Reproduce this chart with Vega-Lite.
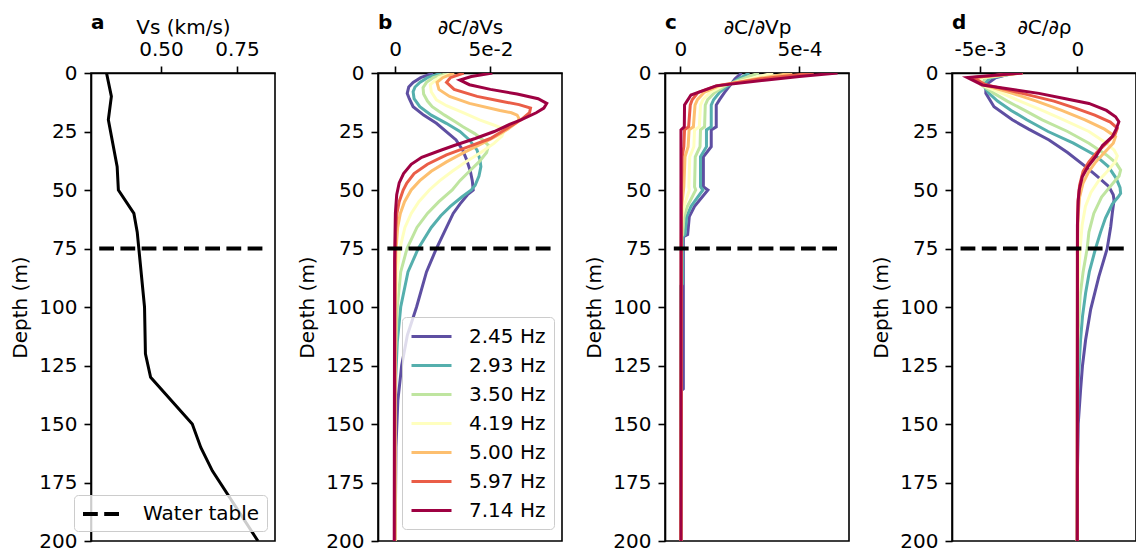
{
  "$schema": "https://vega.github.io/schema/vega-lite/v6.json",
  "background": "white",
  "padding": {"left": 10, "top": 12, "right": 0, "bottom": 0},
  "datasets": {
    "vs": [
      {"d": 0, "vs": 0.321}, {"d": 10, "vs": 0.337}, {"d": 20, "vs": 0.327}, {"d": 40, "vs": 0.356},
      {"d": 50, "vs": 0.36}, {"d": 60, "vs": 0.411}, {"d": 68, "vs": 0.422}, {"d": 100, "vs": 0.446},
      {"d": 120, "vs": 0.449}, {"d": 130, "vs": 0.466}, {"d": 150, "vs": 0.603}, {"d": 160, "vs": 0.631},
      {"d": 170, "vs": 0.669}, {"d": 200, "vs": 0.819}
    ],
    "vsens": [
      {"f": "2.45 Hz", "d": 0, "v": 0.02}, {"f": "2.45 Hz", "d": 2, "v": 0.0135}, {"f": "2.45 Hz", "d": 4, "v": 0.0095},
      {"f": "2.45 Hz", "d": 6, "v": 0.0072}, {"f": "2.45 Hz", "d": 8.7, "v": 0.0064}, {"f": "2.45 Hz", "d": 11, "v": 0.0075},
      {"f": "2.45 Hz", "d": 14.4, "v": 0.0095}, {"f": "2.45 Hz", "d": 18, "v": 0.015}, {"f": "2.45 Hz", "d": 21.5, "v": 0.0217},
      {"f": "2.45 Hz", "d": 28.6, "v": 0.032}, {"f": "2.45 Hz", "d": 33, "v": 0.0355}, {"f": "2.45 Hz", "d": 37, "v": 0.0375},
      {"f": "2.45 Hz", "d": 42, "v": 0.0395}, {"f": "2.45 Hz", "d": 46, "v": 0.0405}, {"f": "2.45 Hz", "d": 50, "v": 0.041},
      {"f": "2.45 Hz", "d": 52, "v": 0.038}, {"f": "2.45 Hz", "d": 56, "v": 0.034}, {"f": "2.45 Hz", "d": 60, "v": 0.0305},
      {"f": "2.45 Hz", "d": 66, "v": 0.027}, {"f": "2.45 Hz", "d": 75, "v": 0.0217}, {"f": "2.45 Hz", "d": 85, "v": 0.0165},
      {"f": "2.45 Hz", "d": 100, "v": 0.0113}, {"f": "2.45 Hz", "d": 112, "v": 0.0065}, {"f": "2.45 Hz", "d": 125, "v": 0.0035},
      {"f": "2.45 Hz", "d": 140, "v": 0.0015}, {"f": "2.45 Hz", "d": 160, "v": 0.0005}, {"f": "2.45 Hz", "d": 200, "v": 0.0001},

      {"f": "2.93 Hz", "d": 0, "v": 0.0243}, {"f": "2.93 Hz", "d": 2, "v": 0.017}, {"f": "2.93 Hz", "d": 4, "v": 0.013},
      {"f": "2.93 Hz", "d": 6, "v": 0.0105}, {"f": "2.93 Hz", "d": 8, "v": 0.0095}, {"f": "2.93 Hz", "d": 11, "v": 0.01},
      {"f": "2.93 Hz", "d": 14.4, "v": 0.013}, {"f": "2.93 Hz", "d": 18, "v": 0.019}, {"f": "2.93 Hz", "d": 21.5, "v": 0.0269},
      {"f": "2.93 Hz", "d": 25, "v": 0.034}, {"f": "2.93 Hz", "d": 28.6, "v": 0.039}, {"f": "2.93 Hz", "d": 33, "v": 0.043},
      {"f": "2.93 Hz", "d": 37, "v": 0.0445}, {"f": "2.93 Hz", "d": 40, "v": 0.045}, {"f": "2.93 Hz", "d": 44, "v": 0.044},
      {"f": "2.93 Hz", "d": 48, "v": 0.042}, {"f": "2.93 Hz", "d": 50, "v": 0.04}, {"f": "2.93 Hz", "d": 53, "v": 0.035},
      {"f": "2.93 Hz", "d": 57, "v": 0.029}, {"f": "2.93 Hz", "d": 61, "v": 0.024}, {"f": "2.93 Hz", "d": 66, "v": 0.019},
      {"f": "2.93 Hz", "d": 75, "v": 0.0122}, {"f": "2.93 Hz", "d": 85, "v": 0.0068}, {"f": "2.93 Hz", "d": 100, "v": 0.003},
      {"f": "2.93 Hz", "d": 115, "v": 0.0012}, {"f": "2.93 Hz", "d": 130, "v": 0.0004}, {"f": "2.93 Hz", "d": 160, "v": 0.0},
      {"f": "2.93 Hz", "d": 200, "v": 0.0},

      {"f": "3.50 Hz", "d": 0, "v": 0.0278}, {"f": "3.50 Hz", "d": 2, "v": 0.02}, {"f": "3.50 Hz", "d": 4, "v": 0.0165},
      {"f": "3.50 Hz", "d": 6.3, "v": 0.0147}, {"f": "3.50 Hz", "d": 9, "v": 0.015}, {"f": "3.50 Hz", "d": 12, "v": 0.017},
      {"f": "3.50 Hz", "d": 14.4, "v": 0.0195}, {"f": "3.50 Hz", "d": 18, "v": 0.026}, {"f": "3.50 Hz", "d": 21, "v": 0.032},
      {"f": "3.50 Hz", "d": 23, "v": 0.0356}, {"f": "3.50 Hz", "d": 26, "v": 0.042}, {"f": "3.50 Hz", "d": 28.6, "v": 0.046},
      {"f": "3.50 Hz", "d": 31, "v": 0.049}, {"f": "3.50 Hz", "d": 34, "v": 0.048}, {"f": "3.50 Hz", "d": 38, "v": 0.044},
      {"f": "3.50 Hz", "d": 42, "v": 0.039}, {"f": "3.50 Hz", "d": 46, "v": 0.034}, {"f": "3.50 Hz", "d": 50, "v": 0.03},
      {"f": "3.50 Hz", "d": 55, "v": 0.023}, {"f": "3.50 Hz", "d": 60, "v": 0.017}, {"f": "3.50 Hz", "d": 66, "v": 0.0115},
      {"f": "3.50 Hz", "d": 75, "v": 0.0063}, {"f": "3.50 Hz", "d": 85, "v": 0.003}, {"f": "3.50 Hz", "d": 100, "v": 0.0012},
      {"f": "3.50 Hz", "d": 120, "v": 0.0003}, {"f": "3.50 Hz", "d": 150, "v": 0.0}, {"f": "3.50 Hz", "d": 200, "v": 0.0},

      {"f": "4.19 Hz", "d": 0, "v": 0.0304}, {"f": "4.19 Hz", "d": 2, "v": 0.023}, {"f": "4.19 Hz", "d": 5, "v": 0.0185},
      {"f": "4.19 Hz", "d": 8, "v": 0.019}, {"f": "4.19 Hz", "d": 11.5, "v": 0.0217}, {"f": "4.19 Hz", "d": 14, "v": 0.027},
      {"f": "4.19 Hz", "d": 17, "v": 0.036}, {"f": "4.19 Hz", "d": 20, "v": 0.0443}, {"f": "4.19 Hz", "d": 22, "v": 0.051},
      {"f": "4.19 Hz", "d": 24, "v": 0.0575}, {"f": "4.19 Hz", "d": 27, "v": 0.056}, {"f": "4.19 Hz", "d": 30, "v": 0.052},
      {"f": "4.19 Hz", "d": 34, "v": 0.045}, {"f": "4.19 Hz", "d": 38, "v": 0.037}, {"f": "4.19 Hz", "d": 42, "v": 0.03},
      {"f": "4.19 Hz", "d": 46, "v": 0.0235}, {"f": "4.19 Hz", "d": 50, "v": 0.018}, {"f": "4.19 Hz", "d": 55, "v": 0.0125},
      {"f": "4.19 Hz", "d": 60, "v": 0.0085}, {"f": "4.19 Hz", "d": 66, "v": 0.0052}, {"f": "4.19 Hz", "d": 75, "v": 0.0026},
      {"f": "4.19 Hz", "d": 85, "v": 0.0011}, {"f": "4.19 Hz", "d": 100, "v": 0.0003}, {"f": "4.19 Hz", "d": 120, "v": 0.0},
      {"f": "4.19 Hz", "d": 200, "v": 0.0},

      {"f": "5.00 Hz", "d": 0, "v": 0.031}, {"f": "5.00 Hz", "d": 2, "v": 0.025}, {"f": "5.00 Hz", "d": 4, "v": 0.022},
      {"f": "5.00 Hz", "d": 7, "v": 0.023}, {"f": "5.00 Hz", "d": 10, "v": 0.0286}, {"f": "5.00 Hz", "d": 13, "v": 0.039},
      {"f": "5.00 Hz", "d": 16, "v": 0.055}, {"f": "5.00 Hz", "d": 17, "v": 0.061}, {"f": "5.00 Hz", "d": 18, "v": 0.064},
      {"f": "5.00 Hz", "d": 19.5, "v": 0.065}, {"f": "5.00 Hz", "d": 21, "v": 0.064}, {"f": "5.00 Hz", "d": 24, "v": 0.059},
      {"f": "5.00 Hz", "d": 27, "v": 0.053}, {"f": "5.00 Hz", "d": 30, "v": 0.046}, {"f": "5.00 Hz", "d": 34, "v": 0.036},
      {"f": "5.00 Hz", "d": 38, "v": 0.027}, {"f": "5.00 Hz", "d": 42, "v": 0.019}, {"f": "5.00 Hz", "d": 46, "v": 0.013},
      {"f": "5.00 Hz", "d": 50, "v": 0.0085}, {"f": "5.00 Hz", "d": 55, "v": 0.005}, {"f": "5.00 Hz", "d": 60, "v": 0.0028},
      {"f": "5.00 Hz", "d": 66, "v": 0.0014}, {"f": "5.00 Hz", "d": 75, "v": 0.0006}, {"f": "5.00 Hz", "d": 85, "v": 0.0002},
      {"f": "5.00 Hz", "d": 100, "v": 0.0}, {"f": "5.00 Hz", "d": 200, "v": 0.0},

      {"f": "5.97 Hz", "d": 0, "v": 0.036}, {"f": "5.97 Hz", "d": 2, "v": 0.029}, {"f": "5.97 Hz", "d": 4, "v": 0.027},
      {"f": "5.97 Hz", "d": 7, "v": 0.031}, {"f": "5.97 Hz", "d": 10, "v": 0.043}, {"f": "5.97 Hz", "d": 12, "v": 0.055},
      {"f": "5.97 Hz", "d": 13.5, "v": 0.065}, {"f": "5.97 Hz", "d": 15, "v": 0.071}, {"f": "5.97 Hz", "d": 17, "v": 0.0705},
      {"f": "5.97 Hz", "d": 20, "v": 0.066}, {"f": "5.97 Hz", "d": 23, "v": 0.06}, {"f": "5.97 Hz", "d": 25, "v": 0.056},
      {"f": "5.97 Hz", "d": 28, "v": 0.05}, {"f": "5.97 Hz", "d": 31, "v": 0.04}, {"f": "5.97 Hz", "d": 35, "v": 0.027},
      {"f": "5.97 Hz", "d": 39, "v": 0.017}, {"f": "5.97 Hz", "d": 43, "v": 0.01}, {"f": "5.97 Hz", "d": 47, "v": 0.0062},
      {"f": "5.97 Hz", "d": 50, "v": 0.0043}, {"f": "5.97 Hz", "d": 55, "v": 0.0022}, {"f": "5.97 Hz", "d": 60, "v": 0.001},
      {"f": "5.97 Hz", "d": 68, "v": 0.0003}, {"f": "5.97 Hz", "d": 80, "v": 0.0001}, {"f": "5.97 Hz", "d": 200, "v": -0.0002},

      {"f": "7.14 Hz", "d": 0, "v": 0.051}, {"f": "7.14 Hz", "d": 1.5, "v": 0.04}, {"f": "7.14 Hz", "d": 3, "v": 0.034},
      {"f": "7.14 Hz", "d": 5, "v": 0.039}, {"f": "7.14 Hz", "d": 7, "v": 0.05}, {"f": "7.14 Hz", "d": 9, "v": 0.064},
      {"f": "7.14 Hz", "d": 11, "v": 0.075}, {"f": "7.14 Hz", "d": 13, "v": 0.0795}, {"f": "7.14 Hz", "d": 15, "v": 0.078},
      {"f": "7.14 Hz", "d": 17, "v": 0.074}, {"f": "7.14 Hz", "d": 20, "v": 0.066}, {"f": "7.14 Hz", "d": 22, "v": 0.06},
      {"f": "7.14 Hz", "d": 25, "v": 0.052}, {"f": "7.14 Hz", "d": 28, "v": 0.042}, {"f": "7.14 Hz", "d": 31, "v": 0.031},
      {"f": "7.14 Hz", "d": 33, "v": 0.024}, {"f": "7.14 Hz", "d": 36, "v": 0.014}, {"f": "7.14 Hz", "d": 39, "v": 0.0085},
      {"f": "7.14 Hz", "d": 43, "v": 0.0045}, {"f": "7.14 Hz", "d": 47, "v": 0.0022}, {"f": "7.14 Hz", "d": 52, "v": 0.0009},
      {"f": "7.14 Hz", "d": 60, "v": 0.0002}, {"f": "7.14 Hz", "d": 80, "v": -0.0002}, {"f": "7.14 Hz", "d": 200, "v": -0.0004}
    ],
    "vp": [
      {"f": "2.45 Hz", "d": 0, "v": 0.000257}, {"f": "2.45 Hz", "d": 2.5, "v": 0.00023}, {"f": "2.45 Hz", "d": 5.4, "v": 0.000208},
      {"f": "2.45 Hz", "d": 8.3, "v": 0.000186}, {"f": "2.45 Hz", "d": 11.4, "v": 0.000165}, {"f": "2.45 Hz", "d": 13.7, "v": 0.000151},
      {"f": "2.45 Hz", "d": 23, "v": 0.000151}, {"f": "2.45 Hz", "d": 24.3, "v": 0.00013}, {"f": "2.45 Hz", "d": 31.5, "v": 0.00013},
      {"f": "2.45 Hz", "d": 35.8, "v": 0.000097}, {"f": "2.45 Hz", "d": 48.6, "v": 0.000097}, {"f": "2.45 Hz", "d": 50, "v": 0.000116},
      {"f": "2.45 Hz", "d": 57, "v": 0.00006}, {"f": "2.45 Hz", "d": 61.4, "v": 0.000038}, {"f": "2.45 Hz", "d": 69, "v": 0.000031},
      {"f": "2.45 Hz", "d": 70, "v": 0.000013}, {"f": "2.45 Hz", "d": 135, "v": 0.000013}, {"f": "2.45 Hz", "d": 136, "v": 0.000002},
      {"f": "2.45 Hz", "d": 200, "v": 0.000002},

      {"f": "2.93 Hz", "d": 0, "v": 0.00029}, {"f": "2.93 Hz", "d": 2.5, "v": 0.000245}, {"f": "2.93 Hz", "d": 5.4, "v": 0.0002},
      {"f": "2.93 Hz", "d": 8.3, "v": 0.000165}, {"f": "2.93 Hz", "d": 11.4, "v": 0.00014}, {"f": "2.93 Hz", "d": 13.7, "v": 0.00013},
      {"f": "2.93 Hz", "d": 23, "v": 0.00013}, {"f": "2.93 Hz", "d": 24.3, "v": 0.00011}, {"f": "2.93 Hz", "d": 31.5, "v": 0.00011},
      {"f": "2.93 Hz", "d": 35.8, "v": 0.000085}, {"f": "2.93 Hz", "d": 48.6, "v": 0.000085}, {"f": "2.93 Hz", "d": 50, "v": 0.000095},
      {"f": "2.93 Hz", "d": 57, "v": 0.000045}, {"f": "2.93 Hz", "d": 61.4, "v": 0.000027}, {"f": "2.93 Hz", "d": 69, "v": 0.00002},
      {"f": "2.93 Hz", "d": 70, "v": 0.00001}, {"f": "2.93 Hz", "d": 90, "v": 0.00001}, {"f": "2.93 Hz", "d": 91, "v": 0.000002},
      {"f": "2.93 Hz", "d": 200, "v": 0.000002},

      {"f": "3.50 Hz", "d": 0, "v": 0.00033}, {"f": "3.50 Hz", "d": 2.5, "v": 0.00026}, {"f": "3.50 Hz", "d": 5.4, "v": 0.00019},
      {"f": "3.50 Hz", "d": 8.3, "v": 0.000145}, {"f": "3.50 Hz", "d": 11.4, "v": 0.000115}, {"f": "3.50 Hz", "d": 13.7, "v": 0.000105},
      {"f": "3.50 Hz", "d": 23, "v": 0.000102}, {"f": "3.50 Hz", "d": 24.3, "v": 0.000085}, {"f": "3.50 Hz", "d": 31.5, "v": 0.000083},
      {"f": "3.50 Hz", "d": 35.8, "v": 0.000063}, {"f": "3.50 Hz", "d": 48.6, "v": 0.00006}, {"f": "3.50 Hz", "d": 50, "v": 0.000065},
      {"f": "3.50 Hz", "d": 57, "v": 0.00003}, {"f": "3.50 Hz", "d": 61.4, "v": 0.000016}, {"f": "3.50 Hz", "d": 69, "v": 0.00001},
      {"f": "3.50 Hz", "d": 70, "v": 0.000005}, {"f": "3.50 Hz", "d": 200, "v": 0.000003},

      {"f": "4.19 Hz", "d": 0, "v": 0.00039}, {"f": "4.19 Hz", "d": 2.5, "v": 0.00029}, {"f": "4.19 Hz", "d": 5.4, "v": 0.00018},
      {"f": "4.19 Hz", "d": 8.3, "v": 0.000125}, {"f": "4.19 Hz", "d": 11.4, "v": 0.000095}, {"f": "4.19 Hz", "d": 13.7, "v": 0.000085},
      {"f": "4.19 Hz", "d": 23, "v": 0.00008}, {"f": "4.19 Hz", "d": 24.3, "v": 0.00006}, {"f": "4.19 Hz", "d": 31.5, "v": 0.000057},
      {"f": "4.19 Hz", "d": 35.8, "v": 0.00004}, {"f": "4.19 Hz", "d": 48.6, "v": 0.000036}, {"f": "4.19 Hz", "d": 50, "v": 0.000038},
      {"f": "4.19 Hz", "d": 57, "v": 0.000016}, {"f": "4.19 Hz", "d": 61.4, "v": 0.000008}, {"f": "4.19 Hz", "d": 70, "v": 0.000004},
      {"f": "4.19 Hz", "d": 200, "v": 0.000003},

      {"f": "5.00 Hz", "d": 0, "v": 0.00047}, {"f": "5.00 Hz", "d": 2.5, "v": 0.00032}, {"f": "5.00 Hz", "d": 5.4, "v": 0.000165},
      {"f": "5.00 Hz", "d": 8.3, "v": 0.0001}, {"f": "5.00 Hz", "d": 11.4, "v": 0.000072}, {"f": "5.00 Hz", "d": 13.7, "v": 0.000062},
      {"f": "5.00 Hz", "d": 23, "v": 0.000055}, {"f": "5.00 Hz", "d": 24.3, "v": 0.000037}, {"f": "5.00 Hz", "d": 31.5, "v": 0.000033},
      {"f": "5.00 Hz", "d": 35.8, "v": 0.00002}, {"f": "5.00 Hz", "d": 48.6, "v": 0.000015}, {"f": "5.00 Hz", "d": 57, "v": 0.000006},
      {"f": "5.00 Hz", "d": 200, "v": 0.000003},

      {"f": "5.97 Hz", "d": 0, "v": 0.00056}, {"f": "5.97 Hz", "d": 2.5, "v": 0.00034}, {"f": "5.97 Hz", "d": 5.4, "v": 0.000155},
      {"f": "5.97 Hz", "d": 8.3, "v": 0.000075}, {"f": "5.97 Hz", "d": 11.4, "v": 0.00005}, {"f": "5.97 Hz", "d": 13.7, "v": 0.000042},
      {"f": "5.97 Hz", "d": 23, "v": 0.000035}, {"f": "5.97 Hz", "d": 24.3, "v": 0.000018}, {"f": "5.97 Hz", "d": 31.5, "v": 0.000015},
      {"f": "5.97 Hz", "d": 35.8, "v": 0.000008}, {"f": "5.97 Hz", "d": 48.6, "v": 0.000005}, {"f": "5.97 Hz", "d": 200, "v": 0.000003},

      {"f": "7.14 Hz", "d": 0, "v": 0.00066}, {"f": "7.14 Hz", "d": 1.5, "v": 0.0005}, {"f": "7.14 Hz", "d": 3, "v": 0.000363},
      {"f": "7.14 Hz", "d": 5.5, "v": 0.00015}, {"f": "7.14 Hz", "d": 9.4, "v": 0.000045}, {"f": "7.14 Hz", "d": 13.7, "v": 0.000018},
      {"f": "7.14 Hz", "d": 23, "v": 0.000017}, {"f": "7.14 Hz", "d": 24.3, "v": 0.000003}, {"f": "7.14 Hz", "d": 200, "v": 0.000003}
    ],
    "rho": [
      {"f": "2.45 Hz", "d": 0, "v": -0.0033}, {"f": "2.45 Hz", "d": 2, "v": -0.0042}, {"f": "2.45 Hz", "d": 5, "v": -0.0047},
      {"f": "2.45 Hz", "d": 8.7, "v": -0.0047}, {"f": "2.45 Hz", "d": 14.4, "v": -0.00428}, {"f": "2.45 Hz", "d": 20, "v": -0.00334},
      {"f": "2.45 Hz", "d": 24, "v": -0.0025}, {"f": "2.45 Hz", "d": 28.6, "v": -0.00145}, {"f": "2.45 Hz", "d": 34, "v": -0.0005},
      {"f": "2.45 Hz", "d": 40, "v": 0.00043}, {"f": "2.45 Hz", "d": 44, "v": 0.001}, {"f": "2.45 Hz", "d": 48.6, "v": 0.00163},
      {"f": "2.45 Hz", "d": 52, "v": 0.00185}, {"f": "2.45 Hz", "d": 54.3, "v": 0.00189}, {"f": "2.45 Hz", "d": 60, "v": 0.0018},
      {"f": "2.45 Hz", "d": 65.7, "v": 0.00172}, {"f": "2.45 Hz", "d": 75, "v": 0.00154}, {"f": "2.45 Hz", "d": 87, "v": 0.00111},
      {"f": "2.45 Hz", "d": 101, "v": 0.00069}, {"f": "2.45 Hz", "d": 114, "v": 0.00043}, {"f": "2.45 Hz", "d": 125, "v": 0.00027},
      {"f": "2.45 Hz", "d": 135.5, "v": 0.00017}, {"f": "2.45 Hz", "d": 150, "v": 0.00005}, {"f": "2.45 Hz", "d": 170, "v": 0.00001},
      {"f": "2.45 Hz", "d": 200, "v": 0.0},

      {"f": "2.93 Hz", "d": 0, "v": -0.0031}, {"f": "2.93 Hz", "d": 2, "v": -0.00445}, {"f": "2.93 Hz", "d": 5, "v": -0.00485},
      {"f": "2.93 Hz", "d": 8.7, "v": -0.00454}, {"f": "2.93 Hz", "d": 12, "v": -0.0041}, {"f": "2.93 Hz", "d": 16, "v": -0.0034},
      {"f": "2.93 Hz", "d": 20, "v": -0.0026}, {"f": "2.93 Hz", "d": 25, "v": -0.0015}, {"f": "2.93 Hz", "d": 30, "v": -0.0002},
      {"f": "2.93 Hz", "d": 35, "v": 0.0009}, {"f": "2.93 Hz", "d": 40, "v": 0.0016}, {"f": "2.93 Hz", "d": 45, "v": 0.002},
      {"f": "2.93 Hz", "d": 49, "v": 0.0022}, {"f": "2.93 Hz", "d": 51.4, "v": 0.00223}, {"f": "2.93 Hz", "d": 53, "v": 0.0021},
      {"f": "2.93 Hz", "d": 56, "v": 0.0018}, {"f": "2.93 Hz", "d": 62, "v": 0.00145}, {"f": "2.93 Hz", "d": 68, "v": 0.0012},
      {"f": "2.93 Hz", "d": 75, "v": 0.00094}, {"f": "2.93 Hz", "d": 85, "v": 0.00062}, {"f": "2.93 Hz", "d": 94, "v": 0.00043},
      {"f": "2.93 Hz", "d": 104, "v": 0.00027}, {"f": "2.93 Hz", "d": 114, "v": 0.00017}, {"f": "2.93 Hz", "d": 130, "v": 0.00006},
      {"f": "2.93 Hz", "d": 145, "v": 0.00002}, {"f": "2.93 Hz", "d": 200, "v": 0.0},

      {"f": "3.50 Hz", "d": 0, "v": -0.003}, {"f": "3.50 Hz", "d": 2, "v": -0.0047}, {"f": "3.50 Hz", "d": 5, "v": -0.00495},
      {"f": "3.50 Hz", "d": 8.7, "v": -0.00428}, {"f": "3.50 Hz", "d": 12, "v": -0.0036}, {"f": "3.50 Hz", "d": 16, "v": -0.0027},
      {"f": "3.50 Hz", "d": 20, "v": -0.0018}, {"f": "3.50 Hz", "d": 25, "v": -0.0005}, {"f": "3.50 Hz", "d": 30, "v": 0.0006},
      {"f": "3.50 Hz", "d": 35, "v": 0.0015}, {"f": "3.50 Hz", "d": 38.5, "v": 0.002}, {"f": "3.50 Hz", "d": 41.5, "v": 0.00223},
      {"f": "3.50 Hz", "d": 44, "v": 0.00215}, {"f": "3.50 Hz", "d": 48, "v": 0.00175}, {"f": "3.50 Hz", "d": 53, "v": 0.00125},
      {"f": "3.50 Hz", "d": 60, "v": 0.00085}, {"f": "3.50 Hz", "d": 68, "v": 0.0006}, {"f": "3.50 Hz", "d": 75, "v": 0.00051},
      {"f": "3.50 Hz", "d": 85, "v": 0.0003}, {"f": "3.50 Hz", "d": 95, "v": 0.00015}, {"f": "3.50 Hz", "d": 110, "v": 0.00005},
      {"f": "3.50 Hz", "d": 130, "v": 0.00001}, {"f": "3.50 Hz", "d": 200, "v": 0.0},

      {"f": "4.19 Hz", "d": 0, "v": -0.00295}, {"f": "4.19 Hz", "d": 2, "v": -0.00495}, {"f": "4.19 Hz", "d": 5, "v": -0.00495},
      {"f": "4.19 Hz", "d": 8.7, "v": -0.00386}, {"f": "4.19 Hz", "d": 12, "v": -0.00295}, {"f": "4.19 Hz", "d": 16, "v": -0.0018},
      {"f": "4.19 Hz", "d": 20, "v": -0.0007}, {"f": "4.19 Hz", "d": 25, "v": 0.0006}, {"f": "4.19 Hz", "d": 30, "v": 0.0015},
      {"f": "4.19 Hz", "d": 33, "v": 0.0019}, {"f": "4.19 Hz", "d": 35.4, "v": 0.00206}, {"f": "4.19 Hz", "d": 38, "v": 0.00195},
      {"f": "4.19 Hz", "d": 42, "v": 0.00155}, {"f": "4.19 Hz", "d": 46, "v": 0.0011}, {"f": "4.19 Hz", "d": 51, "v": 0.0007},
      {"f": "4.19 Hz", "d": 57, "v": 0.00042}, {"f": "4.19 Hz", "d": 65, "v": 0.00025}, {"f": "4.19 Hz", "d": 75, "v": 0.00015},
      {"f": "4.19 Hz", "d": 90, "v": 0.00005}, {"f": "4.19 Hz", "d": 110, "v": 0.00001}, {"f": "4.19 Hz", "d": 200, "v": 0.0},

      {"f": "5.00 Hz", "d": 0, "v": -0.0029}, {"f": "5.00 Hz", "d": 1.9, "v": -0.0052}, {"f": "5.00 Hz", "d": 5, "v": -0.00485},
      {"f": "5.00 Hz", "d": 8.7, "v": -0.00334}, {"f": "5.00 Hz", "d": 12, "v": -0.0021}, {"f": "5.00 Hz", "d": 16, "v": -0.0008},
      {"f": "5.00 Hz", "d": 20, "v": 0.0004}, {"f": "5.00 Hz", "d": 24, "v": 0.0014}, {"f": "5.00 Hz", "d": 27.2, "v": 0.00197},
      {"f": "5.00 Hz", "d": 30, "v": 0.00185}, {"f": "5.00 Hz", "d": 34, "v": 0.0014}, {"f": "5.00 Hz", "d": 38, "v": 0.00095},
      {"f": "5.00 Hz", "d": 42, "v": 0.0006}, {"f": "5.00 Hz", "d": 47, "v": 0.0003}, {"f": "5.00 Hz", "d": 53, "v": 0.00012},
      {"f": "5.00 Hz", "d": 60, "v": 0.00005}, {"f": "5.00 Hz", "d": 75, "v": 0.00001}, {"f": "5.00 Hz", "d": 200, "v": 0.0},

      {"f": "5.97 Hz", "d": 0, "v": -0.0028}, {"f": "5.97 Hz", "d": 1.9, "v": -0.0054}, {"f": "5.97 Hz", "d": 5, "v": -0.0047},
      {"f": "5.97 Hz", "d": 8.7, "v": -0.00283}, {"f": "5.97 Hz", "d": 12, "v": -0.0012}, {"f": "5.97 Hz", "d": 15, "v": -0.0001},
      {"f": "5.97 Hz", "d": 18, "v": 0.0009}, {"f": "5.97 Hz", "d": 21, "v": 0.0017}, {"f": "5.97 Hz", "d": 23.6, "v": 0.00206},
      {"f": "5.97 Hz", "d": 26, "v": 0.00195}, {"f": "5.97 Hz", "d": 30, "v": 0.0015}, {"f": "5.97 Hz", "d": 34, "v": 0.001},
      {"f": "5.97 Hz", "d": 38, "v": 0.0006}, {"f": "5.97 Hz", "d": 42, "v": 0.0003}, {"f": "5.97 Hz", "d": 48, "v": 0.00012},
      {"f": "5.97 Hz", "d": 55, "v": 0.00004}, {"f": "5.97 Hz", "d": 65, "v": 0.00001}, {"f": "5.97 Hz", "d": 200, "v": 0.0},

      {"f": "7.14 Hz", "d": 0, "v": -0.00283}, {"f": "7.14 Hz", "d": 1.9, "v": -0.00565}, {"f": "7.14 Hz", "d": 5.1, "v": -0.00488},
      {"f": "7.14 Hz", "d": 8.7, "v": -0.00197}, {"f": "7.14 Hz", "d": 11, "v": -0.0006}, {"f": "7.14 Hz", "d": 13, "v": 0.0006},
      {"f": "7.14 Hz", "d": 16, "v": 0.0015}, {"f": "7.14 Hz", "d": 18.7, "v": 0.00197}, {"f": "7.14 Hz", "d": 20.8, "v": 0.00214},
      {"f": "7.14 Hz", "d": 24, "v": 0.002}, {"f": "7.14 Hz", "d": 27.2, "v": 0.0018}, {"f": "7.14 Hz", "d": 31, "v": 0.0013},
      {"f": "7.14 Hz", "d": 35.8, "v": 0.00094}, {"f": "7.14 Hz", "d": 40, "v": 0.00055}, {"f": "7.14 Hz", "d": 44.3, "v": 0.00026},
      {"f": "7.14 Hz", "d": 50, "v": 0.0001}, {"f": "7.14 Hz", "d": 54.3, "v": 0.00005}, {"f": "7.14 Hz", "d": 65, "v": 0.00001},
      {"f": "7.14 Hz", "d": 200, "v": 0.0}
    ]
  },
  "spacing": 103,
  "bounds": "flush",
  "hconcat": [
    {
      "width": 184, "height": 468,
      "title": {"text": "a"},
      "layer": [
        {
          "data": {"name": "vs"},
          "mark": {"type": "line", "color": "black", "strokeWidth": 3, "clip": true},
          "encoding": {
            "x": {"field": "vs", "type": "quantitative", "title": "Vs (km/s)",
                  "scale": {"domain": [0.27, 0.875], "nice": false, "zero": false},
                  "axis": {"orient": "top", "values": [0.5, 0.75], "format": ".2f"}},
            "y": {"field": "d", "type": "quantitative", "title": "Depth (m)",
                  "scale": {"domain": [0, 200], "reverse": true, "nice": false, "zero": false},
                  "axis": {"values": [0, 25, 50, 75, 100, 125, 150, 175, 200]}},
            "order": {"field": "d", "type": "quantitative"}
          }
        },
        {
          "data": {"values": [{"x1": 0.297, "x2": 0.843, "d": 75, "label": "Water table"}]},
          "mark": {"type": "rule", "color": "black", "strokeWidth": 4},
          "encoding": {
            "x": {"field": "x1", "type": "quantitative", "title": "Vs (km/s)"},
            "x2": {"field": "x2"},
            "y": {"field": "d", "type": "quantitative", "title": "Depth (m)"},
            "strokeDash": {"field": "label", "type": "nominal",
              "scale": {"domain": ["Water table"], "range": [[14.8, 6.4]]},
              "legend": {"orient": "none", "legendX": -17, "legendY": 422, "title": null,
                "symbolType": "M-1,0H2.8", "symbolSize": 400, "symbolStrokeWidth": 4, "symbolStrokeColor": "black",
                "labelFontSize": 20, "labelOffset": 38, "padding": 7,
                "fillColor": "rgba(255,255,255,0.8)", "strokeColor": "#cccccc", "cornerRadius": 4}}
          }
        }
      ]
    },
    {
      "width": 184, "height": 468,
      "title": {"text": "b"},
      "layer": [
        {
          "data": {"name": "vsens"},
          "mark": {"type": "line", "strokeWidth": 3, "clip": true},
          "encoding": {
            "x": {"field": "v", "type": "quantitative", "title": "∂C/∂Vs",
                  "scale": {"domain": [-0.0089, 0.0875], "nice": false, "zero": false},
                  "axis": {"orient": "top", "values": [0, 0.05], "labelExpr": "datum.value > 0.01 ? '5e-2' : '0'"}},
            "y": {"field": "d", "type": "quantitative", "title": "Depth (m)",
                  "scale": {"domain": [0, 200], "reverse": true, "nice": false, "zero": false},
                  "axis": {"values": [0, 25, 50, 75, 100, 125, 150, 175, 200]}},
            "color": {"field": "f", "type": "nominal",
              "scale": {"domain": ["2.45 Hz", "2.93 Hz", "3.50 Hz", "4.19 Hz", "5.00 Hz", "5.97 Hz", "7.14 Hz"],
                        "range": ["#5e4fa2", "#55afad", "#bfe5a0", "#ffffbf", "#fdbf6f", "#ea5d47", "#9e0142"]},
              "legend": {"orient": "none", "legendX": 24, "legendY": 244, "title": null,
                "symbolType": "M-1,0H3", "symbolSize": 400, "symbolStrokeWidth": 3,
                "labelFontSize": 20, "labelOffset": 36, "padding": 8, "rowPadding": 7,
                "fillColor": "rgba(255,255,255,0.8)", "strokeColor": "#cccccc", "cornerRadius": 4}},
            "order": {"field": "d", "type": "quantitative"}
          }
        },
        {
          "data": {"values": [{"x1": -0.004, "x2": 0.0825, "d": 75}]},
          "mark": {"type": "rule", "color": "black", "strokeWidth": 4, "strokeDash": [14.8, 6.4]},
          "encoding": {
            "x": {"field": "x1", "type": "quantitative", "title": "∂C/∂Vs"},
            "x2": {"field": "x2"},
            "y": {"field": "d", "type": "quantitative", "title": "Depth (m)"}
          }
        }
      ]
    },
    {
      "width": 184, "height": 468,
      "title": {"text": "c"},
      "layer": [
        {
          "data": {"name": "vp"},
          "mark": {"type": "line", "strokeWidth": 3, "clip": true},
          "encoding": {
            "x": {"field": "v", "type": "quantitative", "title": "∂C/∂Vp",
                  "scale": {"domain": [-0.000064, 0.000708], "nice": false, "zero": false},
                  "axis": {"orient": "top", "values": [0, 0.0005], "labelExpr": "datum.value > 0.0001 ? '5e-4' : '0'"}},
            "y": {"field": "d", "type": "quantitative", "title": "Depth (m)",
                  "scale": {"domain": [0, 200], "reverse": true, "nice": false, "zero": false},
                  "axis": {"values": [0, 25, 50, 75, 100, 125, 150, 175, 200]}},
            "color": {"field": "f", "type": "nominal",
              "scale": {"domain": ["2.45 Hz", "2.93 Hz", "3.50 Hz", "4.19 Hz", "5.00 Hz", "5.97 Hz", "7.14 Hz"],
                        "range": ["#5e4fa2", "#55afad", "#bfe5a0", "#ffffbf", "#fdbf6f", "#ea5d47", "#9e0142"]},
              "legend": null},
            "order": {"field": "d", "type": "quantitative"}
          }
        },
        {
          "data": {"values": [{"x1": -0.000027, "x2": 0.00067, "d": 75}]},
          "mark": {"type": "rule", "color": "black", "strokeWidth": 4, "strokeDash": [14.8, 6.4]},
          "encoding": {
            "x": {"field": "x1", "type": "quantitative", "title": "∂C/∂Vp"},
            "x2": {"field": "x2"},
            "y": {"field": "d", "type": "quantitative", "title": "Depth (m)"}
          }
        }
      ]
    },
    {
      "width": 184, "height": 468,
      "title": {"text": "d"},
      "layer": [
        {
          "data": {"name": "rho"},
          "mark": {"type": "line", "strokeWidth": 3, "clip": true},
          "encoding": {
            "x": {"field": "v", "type": "quantitative", "title": "∂C/∂ρ",
                  "scale": {"domain": [-0.00644, 0.00302], "nice": false, "zero": false},
                  "axis": {"orient": "top", "values": [-0.005, 0], "labelExpr": "datum.value < -0.001 ? '-5e-3' : '0'"}},
            "y": {"field": "d", "type": "quantitative", "title": "Depth (m)",
                  "scale": {"domain": [0, 200], "reverse": true, "nice": false, "zero": false},
                  "axis": {"values": [0, 25, 50, 75, 100, 125, 150, 175, 200]}},
            "color": {"field": "f", "type": "nominal",
              "scale": {"domain": ["2.45 Hz", "2.93 Hz", "3.50 Hz", "4.19 Hz", "5.00 Hz", "5.97 Hz", "7.14 Hz"],
                        "range": ["#5e4fa2", "#55afad", "#bfe5a0", "#ffffbf", "#fdbf6f", "#ea5d47", "#9e0142"]},
              "legend": null},
            "order": {"field": "d", "type": "quantitative"}
          }
        },
        {
          "data": {"values": [{"x1": -0.006, "x2": 0.0025, "d": 75}]},
          "mark": {"type": "rule", "color": "black", "strokeWidth": 4, "strokeDash": [14.8, 6.4]},
          "encoding": {
            "x": {"field": "x1", "type": "quantitative", "title": "∂C/∂ρ"},
            "x2": {"field": "x2"},
            "y": {"field": "d", "type": "quantitative", "title": "Depth (m)"}
          }
        }
      ]
    }
  ],
  "resolve": {
    "scale": {"x": "independent", "y": "independent", "color": "independent", "strokeDash": "independent"},
    "legend": {"color": "independent", "strokeDash": "independent"}
  },
  "config": {
    "font": "DejaVu Sans",
    "view": {"stroke": "black", "strokeWidth": 1.6},
    "axis": {
      "grid": false, "labelFont": "DejaVu Sans", "titleFont": "DejaVu Sans",
      "labelFontSize": 20, "titleFontSize": 20, "titleFontWeight": "normal",
      "labelColor": "black", "titleColor": "black", "tickColor": "black", "domainColor": "black",
      "tickSize": 7, "tickWidth": 1.6, "domainWidth": 1.6, "labelPadding": 7, "titlePadding": 2
    },
    "axisLeft": {"titlePadding": 8},
    "legend": {"labelFont": "DejaVu Sans", "labelColor": "black", "labelFontSize": 20},
    "title": {"font": "DejaVu Sans", "fontSize": 20, "fontWeight": "bold", "anchor": "start", "frame": "group", "color": "black", "offset": -16, "baseline": "alphabetic"}
  }
}
